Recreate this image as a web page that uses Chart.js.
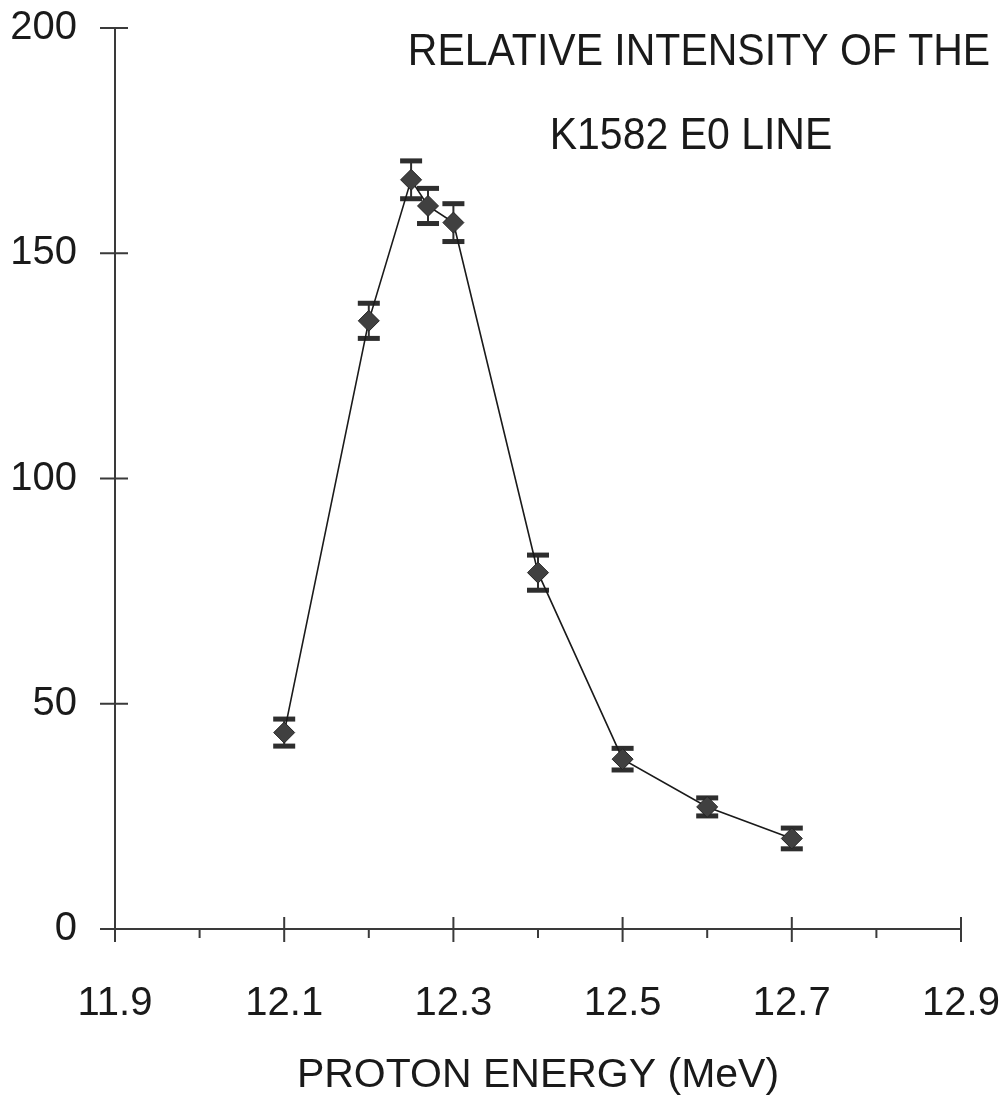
<!DOCTYPE html>
<html>
<head>
<meta charset="utf-8">
<script src="https://cdn.jsdelivr.net/npm/chart.js@4"></script>
<style>
  html, body { margin: 0; padding: 0; background: #fff; }
</style>
</head>
<body>
<canvas id="chart" width="1006" height="1103"></canvas>
<script>
// data
const energies = [12.1, 12.2, 12.25, 12.27, 12.3, 12.4, 12.5, 12.6, 12.7];
const intensities = [43.6, 135.0, 166.3, 160.5, 156.8, 79.1, 37.7, 27.1, 20.1];
const errors = [3.0, 3.9, 4.2, 3.9, 4.2, 3.9, 2.4, 2.0, 2.3];

const xMajorTicks = [11.9, 12.1, 12.3, 12.5, 12.7, 12.9];
const xMinorTicks = [12.0, 12.2, 12.4, 12.6, 12.8];
const yTicks = [0, 50, 100, 150, 200];
const titleLines = ['RELATIVE INTENSITY OF THE', 'K1582 E0 LINE'];

const FONT = "'Liberation Sans', Arial, Helvetica, sans-serif";
const INK = '#1a1a1a';

// axis lines with crossing tick marks, like the original plot
const axesPlugin = {
    id: 'axes',
    beforeDatasetsDraw(chart) {
        const { ctx, scales: { x, y } } = chart;
        const x0 = x.getPixelForValue(x.min);
        const y0 = y.getPixelForValue(y.min);
        ctx.save();
        ctx.strokeStyle = '#3a3a3a';
        ctx.lineWidth = 2;
        ctx.beginPath();
        ctx.moveTo(x0, y.getPixelForValue(y.max));
        ctx.lineTo(x0, y0);
        ctx.lineTo(x.getPixelForValue(x.max), y0);
        yTicks.forEach(v => {
            const py = y.getPixelForValue(v);
            ctx.moveTo(x0 - 15, py);
            ctx.lineTo(x0 + 13, py);
        });
        xMajorTicks.forEach(v => {
            const px = x.getPixelForValue(v);
            ctx.moveTo(px, y0 - 12);
            ctx.lineTo(px, y0 + 13);
        });
        xMinorTicks.forEach(v => {
            const px = x.getPixelForValue(v);
            ctx.moveTo(px, y0);
            ctx.lineTo(px, y0 + 9);
        });
        ctx.stroke();
        ctx.restore();
    }
};

// Chart.js has no error bars, so draw the caps from the scales
const errorBarPlugin = {
    id: 'errorBars',
    beforeDatasetsDraw(chart) {
        const { ctx, scales: { x, y } } = chart;
        ctx.save();
        ctx.fillStyle = '#2e2e2e';
        ctx.strokeStyle = '#2e2e2e';
        ctx.lineWidth = 2;
        energies.forEach((e, i) => {
            const px = x.getPixelForValue(e);
            const top = y.getPixelForValue(intensities[i] + errors[i]);
            const bottom = y.getPixelForValue(intensities[i] - errors[i]);
            ctx.beginPath();
            ctx.moveTo(px, top);
            ctx.lineTo(px, bottom);
            ctx.stroke();
            ctx.fillRect(px - 11, top - 2.5, 22, 5);
            ctx.fillRect(px - 11, bottom - 2.5, 22, 5);
        });
        ctx.restore();
    }
};

const titlePlugin = {
    id: 'cornerTitle',
    afterDraw(chart) {
        const { ctx } = chart;
        const spots = [[699, 65], [691, 149]];
        ctx.save();
        ctx.fillStyle = INK;
        ctx.font = '41px ' + FONT;
        ctx.textAlign = 'center';
        ctx.textBaseline = 'alphabetic';
        titleLines.forEach((line, i) => {
            ctx.save();
            ctx.translate(spots[i][0], spots[i][1]);
            ctx.scale(1, 1.08);
            ctx.fillText(line, 0, 0);
            ctx.restore();
        });
        ctx.restore();
    }
};

new Chart(document.getElementById('chart'), {
    type: 'scatter',
    data: {
        datasets: [{
            data: energies.map((e, i) => ({ x: e, y: intensities[i] })),
            showLine: true,
            tension: 0,
            borderColor: INK,
            borderWidth: 1.6,
            pointStyle: 'rectRot',
            pointRadius: 10.5,
            pointBackgroundColor: '#404040',
            pointBorderColor: '#242424',
            pointBorderWidth: 1
        }]
    },
    options: {
        responsive: false,
        animation: false,
        devicePixelRatio: 1,
        layout: { padding: { top: 28, right: 45, left: 0, bottom: 0 } },
        plugins: {
            legend: { display: false },
            tooltip: { enabled: false }
        },
        scales: {
            x: {
                type: 'linear',
                min: 11.9,
                max: 12.9,
                grid: { display: false, drawTicks: false },
                border: { display: false },
                afterBuildTicks: s => { s.ticks = xMajorTicks.map(v => ({ value: v })); },
                afterFit: s => {
                    s.height = 174;
                    s.paddingLeft = 0;
                    s.paddingRight = 0;
                },
                ticks: {
                    autoSkip: false,
                    maxRotation: 0,
                    padding: 51,
                    color: INK,
                    font: { family: FONT, size: 40 },
                    callback: v => v.toFixed(1)
                },
                title: {
                    display: true,
                    text: 'PROTON ENERGY (MeV)',
                    color: INK,
                    font: { family: FONT, size: 41 },
                    padding: { top: 0, bottom: 3 }
                }
            },
            y: {
                min: 0,
                max: 200,
                grid: { display: false, drawTicks: false },
                border: { display: false },
                afterBuildTicks: s => { s.ticks = yTicks.map(v => ({ value: v })); },
                afterFit: s => {
                    s.width = 115;
                    s.paddingTop = 0;
                    s.paddingBottom = 0;
                },
                ticks: {
                    padding: 38,
                    color: INK,
                    font: { family: FONT, size: 40 }
                }
            }
        }
    },
    plugins: [axesPlugin, errorBarPlugin, titlePlugin]
});
</script>
</body>
</html>
